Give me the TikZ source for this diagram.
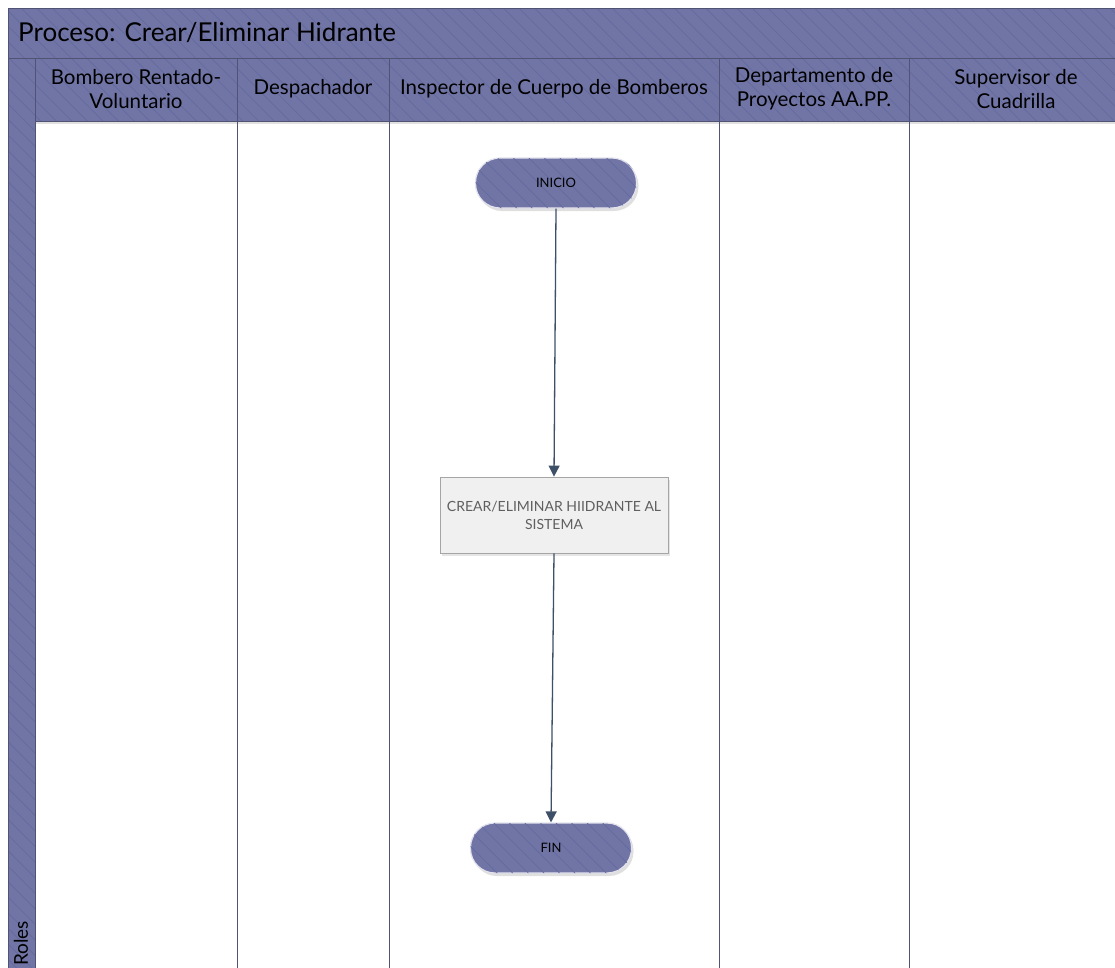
\documentclass[tikz,border=0pt]{standalone}
\usepackage{fontspec}
\setmainfont{Lato}
\usetikzlibrary{arrows.meta,patterns.meta,shadows}
\definecolor{lanefill}{RGB}{113,117,166}
\definecolor{lanehatch}{RGB}{100,106,158}
\definecolor{laneline}{RGB}{80,83,115}
\definecolor{flowline}{RGB}{62,80,104}
\definecolor{procfill}{RGB}{240,240,240}
\definecolor{procedge}{RGB}{165,165,165}
\definecolor{proctext}{RGB}{95,95,95}
\tikzset{
  hatched/.style={pattern={Lines[angle=-45,distance=11pt,line width=0.7pt]},pattern color=lanehatch},
  headtext/.style={font=\fontsize{20.5}{24}\selectfont,align=center,text=black,inner sep=0pt},
  terminal/.style={rectangle,rounded corners=24.5pt,minimum width=161pt,minimum height=50pt,
    fill=lanefill,draw=white!80!lanefill,line width=1.2pt,
    font=\fontsize{13}{15}\selectfont,text=black,
    postaction={hatched},
    drop shadow={opacity=0.25,shadow xshift=2pt,shadow yshift=-3pt}},
  procbox/.style={rectangle,minimum width=228pt,minimum height=76pt,
    fill=procfill,draw=procedge,line width=0.8pt,align=center,
    font=\fontsize{14}{18}\selectfont,text=proctext,
    drop shadow={opacity=0.2,shadow xshift=2pt,shadow yshift=-3pt}},
  flow/.style={draw=flowline,line width=1.3pt,-{Triangle[length=11pt,width=11pt]}},
  lanerule/.style={draw=laneline,line width=0.9pt}
}
\begin{document}
\begin{tikzpicture}[x=1pt,y=-1pt]
\useasboundingbox (0,0) rectangle (1115,967);
\clip (0,0) rectangle (1115,967);
\fill[white] (0,0) rectangle (1115,967);
% pool band: title, header row and the left role strip
\fill[lanefill] (8,8) rectangle (1130,985);
\fill[hatched] (8,8) rectangle (1130,985);
% lane bodies
\fill[white] (35,121) rectangle (1130,985);
\fill[black,opacity=0.12] (35,121) rectangle (1130,124);
% outline and lane rules
\draw[lanerule] (8,985) -- (8,8) -- (1130,8);
\draw[lanerule] (8,58) -- (1130,58);
\draw[lanerule] (35,121) -- (1130,121);
\foreach \xx in {35,237,389,719,909}
  \draw[lanerule] (\xx,58) -- (\xx,985);

% title and lane headers
\node[anchor=west,font=\fontsize{26}{30}\selectfont,inner sep=0pt] (title) at (18,33) {Proceso: Crear/Eliminar Hidrante};
\node[headtext] (h1) at (136,89) {Bombero Rentado-\\Voluntario};
\node[headtext] (h2) at (313,89) {Despachador};
\node[headtext] (h3) at (554,89) {Inspector de Cuerpo de Bomberos};
\node[headtext] (h4) at (814,89) {Departamento de\\Proyectos AA.PP.};
\node[headtext] (h5) at (1016,89) {Supervisor de\\Cuadrilla};
\node[rotate=90,anchor=west,font=\fontsize{19}{21}\selectfont,inner sep=0pt] (roles) at (21,966) {Roles};

% flow
\node[terminal] (inicio) at (556,183) {INICIO};
\node[procbox] (crear) at (554,515) {CREAR/ELIMINAR HIIDRANTE AL\\SISTEMA};
\node[terminal] (fin) at (551,848) {FIN};
\draw[flow] (inicio.south) -- (crear.north);
\draw[flow] (crear.south) -- (fin.north);
\end{tikzpicture}
\end{document}
